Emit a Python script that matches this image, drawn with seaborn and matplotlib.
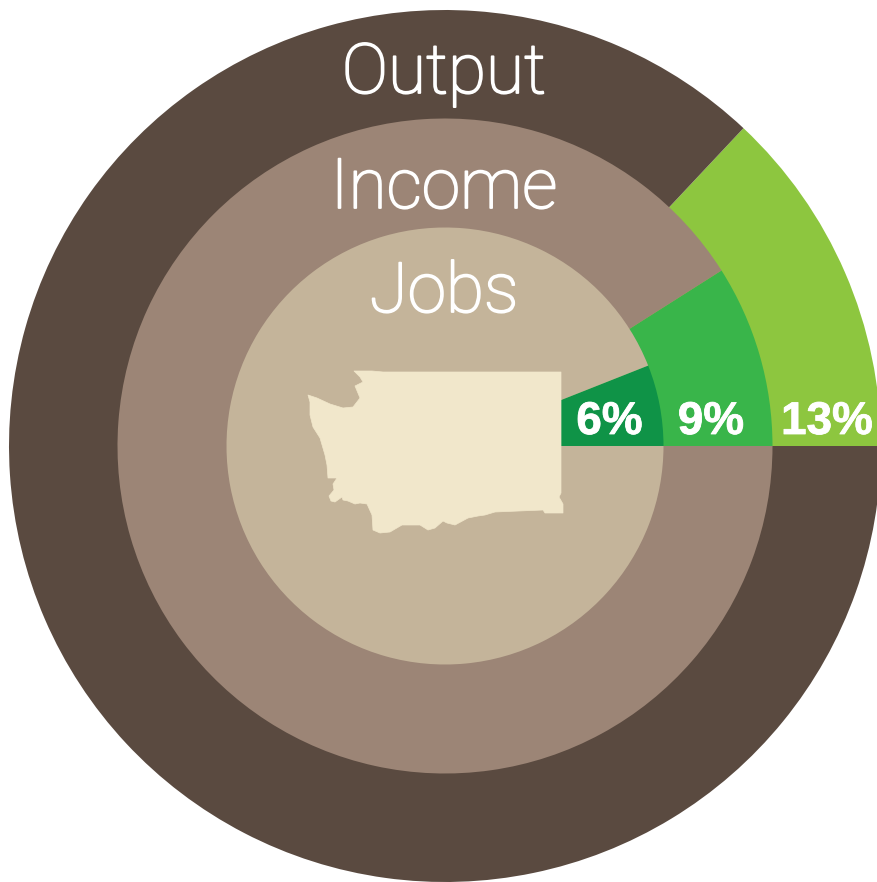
import matplotlib
matplotlib.use("Agg")
import matplotlib.pyplot as plt
import matplotlib.patheffects as pe
import seaborn as sns
from matplotlib.patches import Polygon

metrics = ["Output", "Income", "Jobs"]
shares = [13, 9, 6]
share_labels = ["13%", "9%", "6%"]
radii = [436, 327.5, 218.5]
base_colors = ["#5A4A40", "#9C8576", "#C4B49A"]
green_colors = ["#8DC63F", "#39B54A", "#0F9347"]
state_color = "#F1E7CB"

state_x = [354, 372, 383, 561, 561, 559, 563, 563, 545, 543, 495, 485, 478, 468, 455, 447, 443, 435, 428, 420, 402,
           390, 380, 373, 372, 367, 360, 355, 348, 343, 342, 335, 331, 329, 334, 333, 337, 328, 327, 325, 320, 313,
           310, 310, 308, 317, 330, 343, 353, 360, 355, 363, 360]
state_y = [371, 371, 372, 372, 493, 497, 504, 513, 513, 510, 512, 515, 516, 518, 525, 523, 521, 528, 530, 525, 525,
           532, 533, 530, 515, 504, 503, 504, 501, 500, 497, 502, 501, 496, 490, 484, 478, 478, 465, 455, 438, 427,
           415, 402, 395, 398, 404, 408, 407, 398, 386, 382, 377]

sns.set_theme(style="white")
plt.rcParams["font.family"] = ["Liberation Sans", "DejaVu Sans"]

W, H = 878, 882
fig = plt.figure(figsize=(W / 100, H / 100), dpi=100, facecolor="white")
ax = fig.add_axes([0, 0, 1, 1])
cx, cy = 445, H - 446

for r, s, base, green in zip(radii, shares, base_colors, green_colors):
    ax.pie([s, 100 - s], colors=sns.color_palette([green, base]), startangle=0,
           counterclock=True, radius=r, center=(cx, cy),
           wedgeprops=dict(linewidth=0), frame=False)

ax.add_patch(Polygon([(x, H - y) for x, y in zip(state_x, state_y)],
                     closed=True, facecolor=state_color, edgecolor=state_color,
                     linewidth=0.5, joinstyle="round", zorder=5))

ax.set_xlim(0, W)
ax.set_ylim(0, H)
ax.set_aspect("equal")
ax.axis("off")

for name, base_y in zip(metrics, [93, 208, 312]):
    ax.text(444, H - base_y, name, color="white", fontsize=50, family=["Roboto", "Liberation Sans"],
            fontweight="light", ha="center", va="baseline", zorder=6,
            path_effects=[pe.withStroke(linewidth=1.3, foreground="white")])
for lab, x in zip(share_labels, [827, 711, 609.5]):
    ax.text(x, H - 434, lab, color="white", fontsize=33, fontweight="bold",
            ha="center", va="baseline", zorder=6,
            path_effects=[pe.withStroke(linewidth=0.6, foreground="white")])

fig.savefig("out.png", dpi=100, facecolor="white")
